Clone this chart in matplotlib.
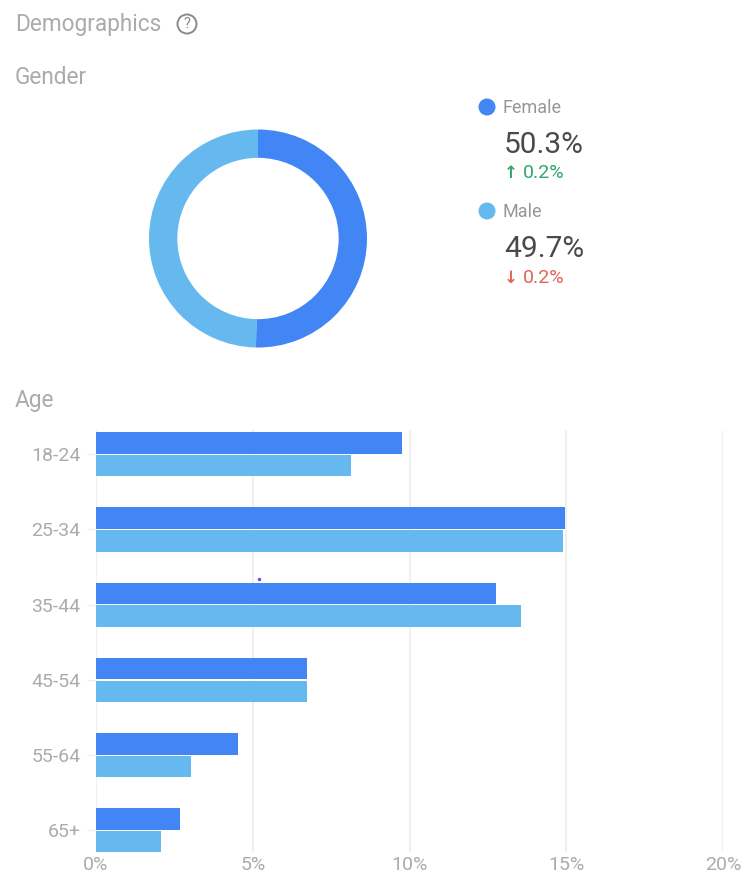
import matplotlib.pyplot as plt
from matplotlib.patches import Circle
import numpy as np

plt.rcParams['font.family'] = ['Roboto', 'DejaVu Sans']

W, H = 743, 876
BLUE = '#4285f4'
LIGHT = '#66b9ee'
GREY = '#ababab'

gender = ['Female', 'Male']
gender_share = [50.3, 49.7]
gender_label = ['50.3%', '49.7%']
gender_change = ['0.2%', '0.2%']

ages = ['18-24', '25-34', '35-44', '45-54', '55-64', '65+']
female = [9.75, 14.95, 12.77, 6.73, 4.53, 2.67]
male = [8.13, 14.9, 13.55, 6.73, 3.03, 2.08]
xticks = [0, 5, 10, 15, 20]


def pixel_axes(left, top, right, bottom):
    return fig.add_axes([left / W, 1 - bottom / H, (right - left) / W, (bottom - top) / H])


fig = plt.figure(figsize=(W / 100, H / 100), dpi=100)

# donut
ax_pie = pixel_axes(149, 129, 367, 348)
ax_pie.pie(gender_share, colors=[BLUE, LIGHT], startangle=90, counterclock=False, radius=1.0,
           wedgeprops={'width': 0.26, 'linewidth': 0})
ax_pie.set_xlim(-1, 1)
ax_pie.set_ylim(-1, 1)

# age bars
ax = pixel_axes(96, 430, 723, 852)
y = np.arange(len(ages))
bar_h = 0.285
ax.barh(y - bar_h / 2 - 0.005, female, height=bar_h, color=BLUE, zorder=3)
ax.barh(y + bar_h / 2 + 0.012, male, height=bar_h, color=LIGHT, zorder=3)
ax.set_xlim(0, 20)
ax.set_ylim(5.29, -0.32)
ax.set_xticks(xticks)
ax.set_xticklabels([f'{t}%' for t in xticks], fontsize=14, color=GREY)
ax.set_yticks(y)
ax.set_yticklabels(ages, fontsize=14, color=GREY)
ax.tick_params(axis='x', length=0, pad=3)
ax.tick_params(axis='y', length=6.5, width=1, color='#f0f0f0', pad=4.5)
ax.grid(axis='x', color='#f0f0f0', linewidth=1.5, zorder=0)
for s in ax.spines.values():
    s.set_visible(False)

# text overlay, in pixels
ov = fig.add_axes([0, 0, 1, 1], zorder=5)
ov.set_xlim(0, W)
ov.set_ylim(H, 0)
ov.axis('off')

ov.text(15, 25, 'Demographics', fontsize=16.3, color=GREY, va='center')
ov.text(15, 77, 'Gender', fontsize=16.3, color=GREY, va='center')
ov.text(15, 400, 'Age', fontsize=16.3, color=GREY, va='center')
ov.add_patch(Circle((187, 24), 9.5, fill=False, edgecolor='#8a8a8a', linewidth=1.4))
ov.text(187, 24.5, '?', fontsize=10.5, color='#8a8a8a', ha='center', va='center')

# small stray dot on the chart
ov.plot([258.5], [579], marker='o', markersize=2.5, color='#5a50e8', markeredgewidth=0)

rows = [(108, 145, 173, BLUE, '#2fa86e', '↑'), (212, 249, 278, LIGHT, '#e2645a', '↓')]
for i, (y0, y1, y2, col, delta_col, arrow) in enumerate(rows):
    ov.add_patch(Circle((487, y0 - 1), 8.5, color=col, linewidth=0))
    ov.text(503, y0, gender[i], fontsize=13, color='#969696', va='center')
    ov.text(504, y1, gender_label[i], fontsize=21.5, color='#4a4a4a', va='center')
    ov.text(504, y2, arrow, fontsize=12, color=delta_col, va='center', family='DejaVu Sans', fontweight='bold')
    ov.text(523, y2, gender_change[i], fontsize=14, color=delta_col, va='center')

fig.savefig('out.png', dpi=100)
